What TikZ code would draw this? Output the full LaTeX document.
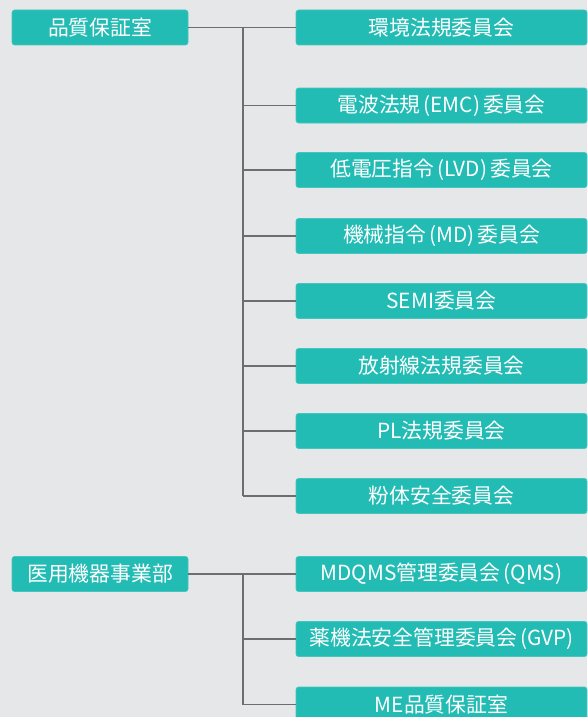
\documentclass[tikz,border=0pt]{standalone}
\usepackage{fontspec}
\setmainfont{Noto Sans CJK JP}
\definecolor{bg}{HTML}{E6E7E9}
\definecolor{teal}{HTML}{23BCB4}
\definecolor{ln}{HTML}{6E6E6E}
\newcommand{\lp}{\kern3pt(}
\newcommand{\rp}{)\kern3pt}
\begin{document}
\begin{tikzpicture}[x=1pt,y=-1pt,
  box/.style={fill=teal,draw=teal!85!white,line width=0.6pt,rounded corners=2.5pt,text=white,
    font=\fontsize{20.8}{24}\selectfont,inner sep=0pt,anchor=center},
  conn/.style={draw=ln,line width=1.3pt}]
\fill[bg] (0,0) rectangle (587,717);
\useasboundingbox (0,0) rectangle (587,717);
\tikzset{lbox/.style={box,minimum width=176pt,minimum height=35pt},
         rbox/.style={box,minimum width=291pt,minimum height=35pt}}
% left
\node[lbox] (q) at (100,27.5) {品質保証室};
\node[lbox] (m) at (100,574) {医用機器事業部};
% right group 1
\node[rbox] (r1) at (441.5,27.5) {環境法規委員会};
\node[rbox] (r2) at (441.5,105.5) {電波法規\lp EMC\rp 委員会};
\node[rbox] (r3) at (441.5,170) {低電圧指令\lp LVD\rp 委員会};
\node[rbox] (r4) at (441.5,236) {機械指令\lp MD\rp 委員会};
\node[rbox] (r5) at (441.5,301) {SEMI委員会};
\node[rbox] (r6) at (441.5,366) {放射線法規委員会};
\node[rbox] (r7) at (441.5,431) {PL法規委員会};
\node[rbox] (r8) at (441.5,496) {粉体安全委員会};
% right group 2
\node[rbox] (s1) at (441.5,574) {MDQMS管理委員会\lp QMS)};
\node[rbox] (s2) at (441.5,639) {薬機法安全管理委員会\lp GVP)};
\node[rbox] (s3) at (441.5,704.5) {ME品質保証室};
% connectors
\coordinate (j1) at (243,27.5);
\coordinate (j1e) at (243,496);
\coordinate (j2) at (243,574);
\coordinate (j2e) at (243,704.5);
\draw[conn] (q.east) -- (r1.west);
\draw[conn] (j1) -- (j1e);
\foreach \n in {r2,r3,r4,r5,r6,r7,r8} \draw[conn] (\n.west) -- (j1 |- \n.west);
\draw[conn] (m.east) -- (s1.west);
\draw[conn] (j2) -- (j2e);
\foreach \n in {s2,s3} \draw[conn] (\n.west) -- (j2 |- \n.west);
\end{tikzpicture}
\end{document}
